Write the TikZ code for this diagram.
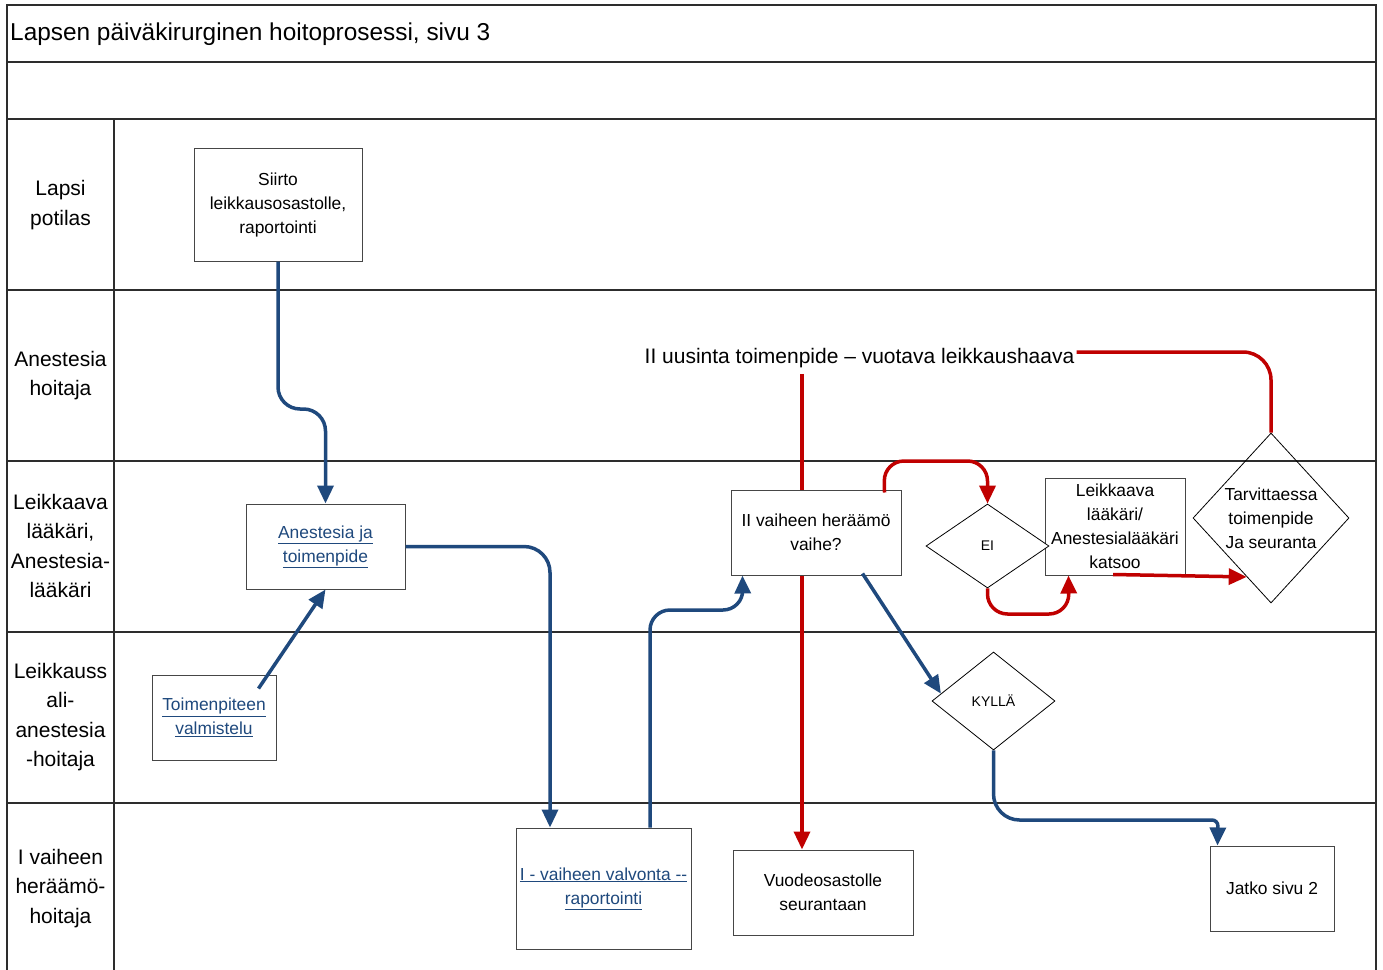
\documentclass[tikz,border=0pt]{standalone}
\usepackage{fontspec}
\setmainfont{Liberation Sans}
\usetikzlibrary{arrows.meta,shapes.geometric,calc}
\definecolor{flowblue}{RGB}{31,73,125}
\definecolor{flowred}{RGB}{192,0,0}
\definecolor{gridc}{RGB}{45,45,45}
\definecolor{boxc}{RGB}{70,70,70}
\pgfdeclarelayer{grid}
\pgfdeclarelayer{edges}
\pgfsetlayers{grid,edges,main}
\newcommand\bxfont{\fontsize{17.4}{24}\selectfont}
\newcommand\lnfont{\fontsize{21}{29.3}\selectfont}
\newcommand\lk[1]{\underline{#1}}

\begin{document}
\begin{tikzpicture}[x=1pt,y=-1pt,
  gridline/.style={draw=gridc,line width=1.4pt},
  box/.style={draw=boxc,line width=1pt,fill=white,inner sep=0pt,align=center,font=\bxfont},
  linkbox/.style={box,text=flowblue},
  dia/.style={diamond,draw=black,line width=0.8pt,inner sep=0pt,aspect=1},
  lane/.style={inner sep=0pt,align=center,font=\lnfont},
  barrow/.style={draw=flowblue,line width=3.5pt,-{Triangle[length=18pt,width=16pt]}},
  rarrow/.style={draw=flowred,line width=3.5pt,-{Triangle[length=18pt,width=16pt]}},
  rline/.style={draw=flowred,line width=3.5pt}]
\useasboundingbox (0,0) rectangle (1383,969);

% swimlane grid
\begin{pgfonlayer}{grid}
  \fill[white] (0,0) rectangle (1383,969);
  \draw[gridline] (7,980) -- (7,5) -- (1376,5) -- (1376,980);
  \foreach \yy in {62,119,290,461,632,803}
    \draw[gridline] (7,\yy) -- (1376,\yy);
  \draw[gridline] (114,119) -- (114,980);
\end{pgfonlayer}

% title and lane names
\node[anchor=west,inner sep=0pt,font=\fontsize{24.4}{28}\selectfont] (title) at (10,34)
  {Lapsen päiväkirurginen hoitoprosessi, sivu 3};
\node[lane] (lane1) at (60.5,205) {Lapsi\\potilas};
\node[lane] (lane2) at (60.5,375.5) {Anestesia\\hoitaja};
\node[lane] (lane3) at (60.5,546) {Leikkaava\\lääkäri,\\Anestesia-\\lääkäri};
\node[lane] (lane4) at (60.5,717) {Leikkauss\\ali-\\anestesia\\-hoitaja};
\node[lane] (lane5) at (60.5,888.5) {I vaiheen\\heräämö-\\hoitaja};

% process steps
\node[box,minimum width=168,minimum height=113] (siirto) at (278,204.5)
  {Siirto\\leikkausosastolle,\\raportointi};
\node[linkbox,minimum width=159,minimum height=85] (anest) at (325.5,546.5)
  {\lk{Anestesia ja}\\\lk{toimenpide}};
\node[linkbox,minimum width=124,minimum height=85] (valm) at (214,717.5)
  {\lk{Toimenpiteen}\\\lk{valmistelu}};
\node[linkbox,minimum width=175,minimum height=121] (ivalv) at (603.5,888.5)
  {\lk{I - vaiheen valvonta -{}-}\\\lk{raportointi}};
\node[box,minimum width=170,minimum height=85] (iivaihe) at (816,532.5)
  {II vaiheen heräämö\\vaihe?};
\node[box,minimum width=140,minimum height=97] (leik) at (1115,526.5)
  {Leikkaava\\lääkäri/\\Anestesialääkäri\\katsoo};
\node[box,minimum width=180,minimum height=85] (vuode) at (823,892.5)
  {Vuodeosastolle\\seurantaan};
\node[box,minimum width=124,minimum height=85] (jatko) at (1272,888.5)
  {Jatko sivu 2};

% decisions
\node[dia,fill=white,minimum width=123,minimum height=84,
  label={[font=\fontsize{14}{17}\selectfont]center:EI}] (ei) at (987.5,546) {};
\node[dia,fill=white,minimum width=123,minimum height=98,
  label={[font=\fontsize{14}{17}\selectfont]center:KYLLÄ}] (kylla) at (993.5,701) {};
\node[dia,minimum width=156,minimum height=170,
  label={[font=\bxfont,align=center]center:Tarvittaessa\\toimenpide\\Ja seuranta}] (tarv) at (1271,518) {};

\node[inner sep=0pt,font=\lnfont] (uusinta) at (859.5,358)
  {II uusinta toimenpide – vuotava leikkaushaava};

% the long red line passes behind the step box it crosses
\begin{pgfonlayer}{edges}
  \draw[rarrow] ($(uusinta.south -| iivaihe.north)+(-14,6)$) -- ($(vuode.north)+(-21,0)$);
\end{pgfonlayer}

% connectors drawn over the boxes
\draw[barrow,rounded corners=22] (siirto.south) -- (278,409) -- (325.5,409) -- (anest.north);
\draw[barrow,rounded corners=26] (anest.east) -| ($(ivalv.north)+(-53.5,0)$);
\draw[barrow] ($(valm.north east)+(-18,14)$) -- (anest.south);
\draw[barrow,rounded corners=20] ($(ivalv.north)+(46.5,0)$) -- (650,610) -- (743,610)
  -- ($(iivaihe.south west)+(12,0)$);
\draw[barrow] ($(iivaihe.south east)+(-39,-2)$) -- ($(kylla.west)!0.15!(kylla.north)$);
\draw[barrow,rounded corners=26] (kylla.south) -- (993.5,820)
  [rounded corners=6] -- (1218,820) -- ($(jatko.north west)+(8,0)$);

\draw[rline,rounded corners=28] (tarv.north) |- ($(uusinta.east)+(2,-6)$);
\draw[rarrow,rounded corners=20] ($(iivaihe.north east)+(-17,3)$) -- (884,461) -- (987.5,461)
  -- (ei.north);
\draw[rarrow,rounded corners=20] (ei.south) -- (987.5,614) -- (1069,614)
  -- ($(leik.south west)+(24,0)$);
\draw[rarrow] ($(leik.south)+(-2,-1)$) -- ($(tarv.west)!0.69!(tarv.south)$);
\end{tikzpicture}
\end{document}
